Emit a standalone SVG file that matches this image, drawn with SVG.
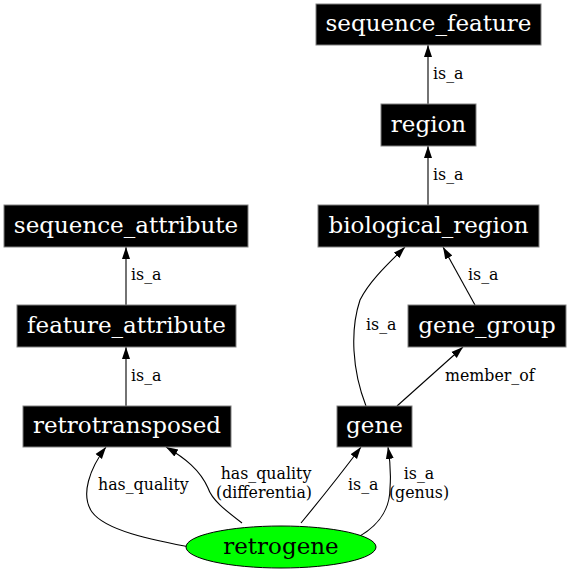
<svg xmlns="http://www.w3.org/2000/svg" width="569" height="576" viewBox="0 0 569 576">
<defs>
<marker id="ah" viewBox="0 0 12 10" refX="12" refY="5" markerWidth="12" markerHeight="10" markerUnits="userSpaceOnUse" orient="auto">
<path d="M0,1 L12,5 L0,9 Z" fill="#000"/>
</marker>
<style>
.n rect{fill:#000;stroke:#808080;stroke-width:1}
.n text{font-family:"DejaVu Serif","Liberation Serif",serif;font-size:23px;fill:#fff;text-anchor:middle}
.e path{fill:none;stroke:#000;stroke-width:1.1;marker-end:url(#ah)}
.e text{font-family:"DejaVu Serif","Liberation Serif",serif;font-size:15.8px;fill:#000}
</style>
</defs>
<rect width="569" height="576" fill="#fff"/>
<g id="edges" class="e">
<path d="M428,104 L428,45"/>
<text x="433" y="79">is_a</text>
<path d="M428,205 L428,146"/>
<text x="433" y="180">is_a</text>
<path d="M126,305 L126,247"/>
<text x="131" y="280">is_a</text>
<path d="M126,406 L126,347"/>
<text x="131" y="381">is_a</text>
<path d="M475,305 L443,247"/>
<text x="468" y="280">is_a</text>
<path d="M366,406 C352,370 350,330 360,300 C370,280 390,262 405,247"/>
<text x="366" y="330">is_a</text>
<path d="M397,406 L463,347"/>
<text x="445" y="381">member_of</text>
<path d="M196,548 C150,540 105,530 92,512 C80,495 90,468 106,447"/>
<text x="98" y="490">has_quality</text>
<path d="M242,523 C225,510 212,500 208,488 C200,470 185,458 166,447"/>
<text x="266" y="479" text-anchor="middle">has_quality</text>
<text x="264" y="498" text-anchor="middle">(differentia)</text>
<path d="M301,523 C320,500 340,475 361,447"/>
<text x="348" y="490">is_a</text>
<path d="M350,541 C375,530 390,512 390,488 C391,475 390,460 388,447"/>
<text x="419" y="479" text-anchor="middle">is_a</text>
<text x="419" y="498" text-anchor="middle">(genus)</text>
</g>
<g id="sequence_feature" class="n"><rect x="316" y="4" width="225" height="41"/><text x="428.5" y="31">sequence_feature</text></g>
<g id="region" class="n"><rect x="381" y="104" width="95" height="42"/><text x="428.5" y="131.5">region</text></g>
<g id="biological_region" class="n"><rect x="318" y="205" width="221" height="42"/><text x="428.5" y="232.5">biological_region</text></g>
<g id="sequence_attribute" class="n"><rect x="4" y="205" width="244" height="42"/><text x="126" y="232.5">sequence_attribute</text></g>
<g id="feature_attribute" class="n"><rect x="17" y="305" width="219" height="42"/><text x="126.5" y="332.5">feature_attribute</text></g>
<g id="retrotransposed" class="n"><rect x="23" y="406" width="208" height="41"/><text x="127" y="433">retrotransposed</text></g>
<g id="gene_group" class="n"><rect x="408" y="305" width="158" height="42"/><text x="487" y="332.5">gene_group</text></g>
<g id="gene" class="n"><rect x="337" y="406" width="75" height="41"/><text x="374.5" y="433">gene</text></g>
<g id="retrogene"><ellipse cx="281" cy="547" rx="95" ry="21" fill="#00ff00" stroke="#000" stroke-width="1"/><text x="281" y="554" font-family="'DejaVu Serif','Liberation Serif',serif" font-size="23" text-anchor="middle">retrogene</text></g>
</svg>
